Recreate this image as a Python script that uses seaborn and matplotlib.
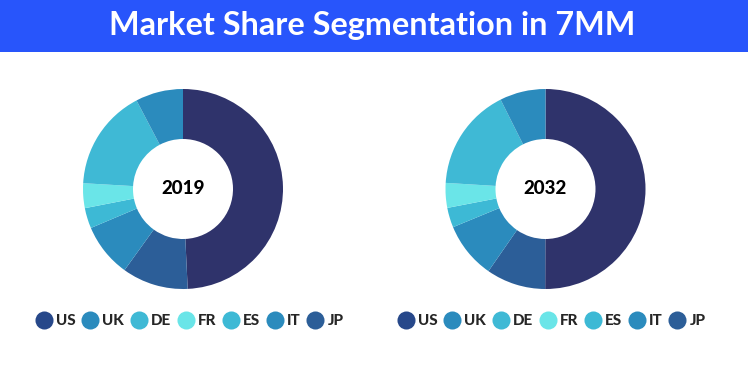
import seaborn as sns
import matplotlib.pyplot as plt
from matplotlib.lines import Line2D
from matplotlib.patches import Rectangle

# regions as listed in the legend
regions = ["US", "UK", "DE", "FR", "ES", "IT", "JP"]
share_2019 = [49.3, 7.7, 16.4, 4.0, 3.3, 8.7, 10.7]
share_2032 = [50.0, 7.4, 16.6, 4.0, 3.2, 9.1, 9.6]
years = ["2019", "2032"]

wedge_colors = {"US": "#2f336b", "UK": "#2b8bbd", "DE": "#3fb9d5", "FR": "#6ae5e8",
                "ES": "#3db9d5", "IT": "#2b8bbd", "JP": "#2c5e98"}
legend_colors = {"US": "#27488a", "UK": "#2b8bbd", "DE": "#3fb9d5", "FR": "#6ae5e8",
                 "ES": "#3db9d5", "IT": "#2b8bbd", "JP": "#2c5e98"}

sns.set_theme(style="white")
plt.rcParams['font.family'] = ['Lato', 'DejaVu Sans']

fig = plt.figure(figsize=(7.48, 3.78), dpi=100)
fig.patch.set_facecolor("white")

# title banner
fig.patches.append(Rectangle((0, 1 - 52 / 378), 1, 52 / 378, transform=fig.transFigure,
                             facecolor="#2855fb", edgecolor="none", zorder=0))
fig.text(0.497, 1 - 25 / 378, "Market Share Segmentation in 7MM", color="white",
         fontsize=23.3, fontweight="bold", ha="center", va="center")


def donut(left, shares, year, legend_x):
    ax = fig.add_axes([left, (378 - 289) / 378, 200 / 748, 200 / 378])
    # clockwise from top: US, then JP, IT, ES, FR, DE, UK
    order = ["US", "JP", "IT", "ES", "FR", "DE", "UK"]
    vals = [shares[regions.index(r)] for r in order]
    ax.pie(vals, colors=[wedge_colors[r] for r in order], startangle=90,
           counterclock=False, radius=1, wedgeprops=dict(width=0.5, linewidth=0))
    ax.set_xlim(-1, 1)
    ax.set_ylim(-1, 1)
    ax.text(0, 0, year, ha="center", va="center", fontsize=13.5, fontweight="black",
            color="black")
    handles = [Line2D([], [], marker="o", linestyle="none", markersize=13,
                      markerfacecolor=legend_colors[r], markeredgecolor="none", label=r)
               for r in regions]
    fig.legend(handles=handles, loc="center", bbox_to_anchor=(legend_x, 1 - 321 / 378),
               ncol=7, frameon=False, handletextpad=0.2, columnspacing=0.35,
               handlelength=1.2, prop=dict(weight="black", size=11))
    return ax


donut(83 / 748, share_2019, years[0], 189 / 748)
donut(445.5 / 748, share_2032, years[1], 551 / 748)

plt.savefig("out.png", dpi=100)
